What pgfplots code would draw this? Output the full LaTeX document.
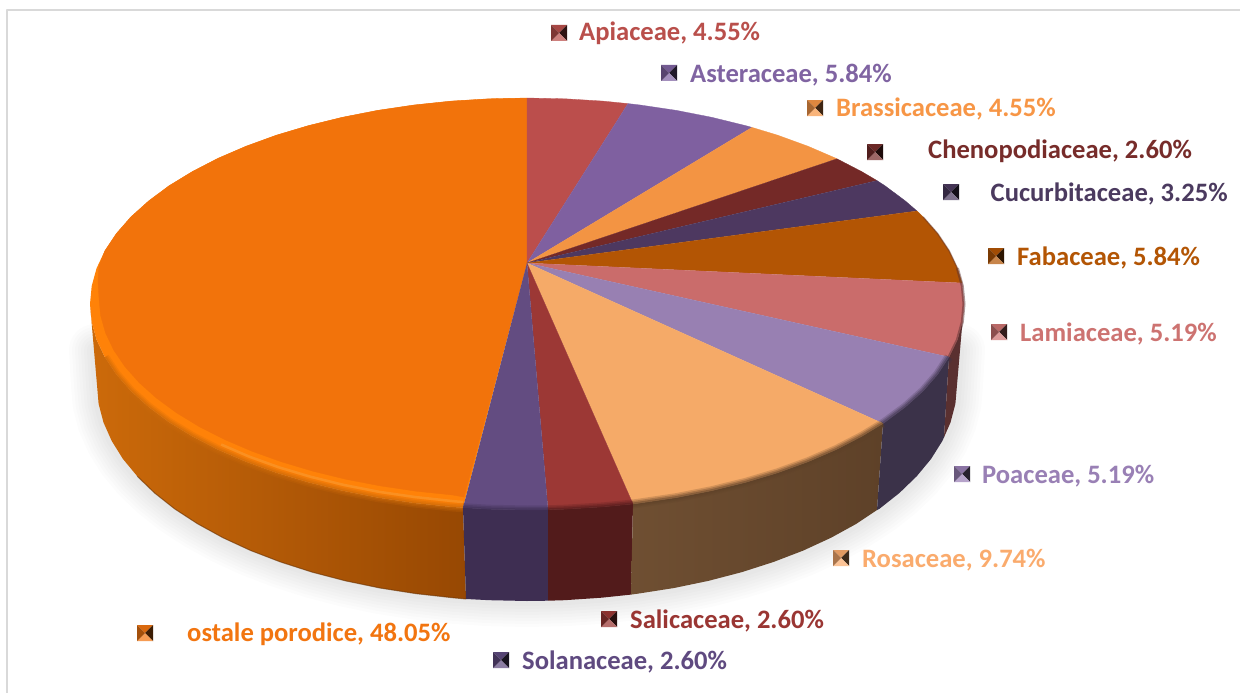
\documentclass[border=0pt]{standalone}
\usepackage{pgfplots}
\pgfplotsset{compat=1.18}
\usepackage{fontspec}
\setmainfont{Carlito}
\definecolor{cApi}{HTML}{BB4E4C}
\definecolor{cAst}{HTML}{7F60A0}
\definecolor{cBra}{HTML}{F39443}
\definecolor{cChe}{HTML}{742927}
\definecolor{cCuc}{HTML}{4D3860}
\definecolor{cFab}{HTML}{B35504}
\definecolor{cLam}{HTML}{CA6C6B}
\definecolor{cPoa}{HTML}{9880B2}
\definecolor{cRos}{HTML}{F5AA68}
\definecolor{cSal}{HTML}{9C3835}
\definecolor{cSol}{HTML}{634C81}
\definecolor{cOth}{HTML}{F2730B}
\definecolor{bevO}{HTML}{FF8208}
\definecolor{hiO}{HTML}{F9952A}
\definecolor{sOthL}{HTML}{CC6A0A}
\definecolor{sOthR}{HTML}{974803}
\definecolor{sSol}{HTML}{3E2E52}
\definecolor{sSal}{HTML}{521B1B}
\definecolor{sRosL}{HTML}{6F4F32}
\definecolor{sRosR}{HTML}{5E4128}
\definecolor{sPoa}{HTML}{3B3249}
\definecolor{sLam}{HTML}{5A3030}
\definecolor{tApi}{HTML}{B94F4B}
\definecolor{tAst}{HTML}{8064A2}
\definecolor{tBra}{HTML}{F79646}
\definecolor{tChe}{HTML}{772C2A}
\definecolor{tCuc}{HTML}{4B3A5F}
\definecolor{tFab}{HTML}{B35504}
\definecolor{tLam}{HTML}{CD7371}
\definecolor{tPoa}{HTML}{9980B5}
\definecolor{tRos}{HTML}{FAAB6D}
\definecolor{tSal}{HTML}{9A3633}
\definecolor{tSol}{HTML}{5F4A80}
\definecolor{tOth}{HTML}{F27510}
\colorlet{kbase}{black}
\tikzset{keyc/.code={\colorlet{kbase}{#1}}}
\pgfdeclareplotmark{pyr}{%
  \fill[kbase!90!black] (-8pt,8pt)--(8pt,8pt)--(0pt,0pt)--cycle;
  \fill[kbase!25!black] (8pt,8pt)--(8pt,-8pt)--(0pt,0pt)--cycle;
  \fill[kbase!72!white] (8pt,-8pt)--(-8pt,-8pt)--(0pt,0pt)--cycle;
  \fill[kbase!68!black] (-8pt,-8pt)--(-8pt,8pt)--(0pt,0pt)--cycle;
}
\newcommand{\key}[3]{\addplot[only marks,mark=pyr,keyc=#1,draw=none] coordinates {(#2,#3)};}
\newcommand{\lab}[5]{\node[anchor=base west,inner sep=0pt,text=#1,font=\fontsize{26.6}{30}\selectfont\bfseries] at (axis cs:#2,#3) {#4, #5\%};}
\newcommand{\soft}[2]{%
  \addplot[draw=#2,line width=9pt,opacity=.22] coordinates {#1};
  \addplot[draw=#2,line width=6pt,opacity=.32] coordinates {#1};
  \addplot[draw=#2,line width=3pt,opacity=.45] coordinates {#1};
}
\newcommand{\shadow}[1]{\addplot[draw=black,line width=#1pt,opacity=.013,line join=round,line cap=round] coordinates {(95,350)(97,385)(98.6,403.8)(103.5,422.5)(111.7,440.9)(122.9,458.9)(137.3,476.3)(154.6,493)(174.7,508.9)(197.6,523.8)(222.9,537.7)(250.6,550.5)(280.3,561.9)(312,572.1)(345.3,580.8)(379.9,588)(415.7,593.6)(452.3,597.7)(489.5,600.2)(527,601)(564.5,600.2)(601.6,597.7)(638.3,593.6)(674.1,588)(708.7,580.8)(742,572.1)(773.7,561.9)(803.4,550.5)(831.1,537.7)(856.4,523.8)(879.3,508.9)(899.4,493)(916.7,476.3)(931.1,458.9)(942.4,440.9)(950.5,422.5)(955.4,403.8)(957,385)(959,350)};}
\begin{document}
\begin{tikzpicture}
\begin{axis}[
  width=1240pt,height=693pt,scale only axis,
  xmin=0,xmax=1240,ymin=0,ymax=693,y dir=reverse,
  axis lines=none,
  every axis plot/.append style={line join=round,line cap=butt},
]
% page
\addplot[fill=white,draw=none] coordinates {(0,0)(1240,0)(1240,693)(0,693)};
% frame
\addplot[draw=black!15,line width=1.6pt] coordinates {(7,693)(7,10)(1240,10)};
% shadow
\shadow{52}\shadow{46}\shadow{40}\shadow{34}\shadow{28}\shadow{22}\shadow{16}\shadow{10}
% side walls
\addplot[left color=sOthL,right color=sOthR,draw=none] coordinates {(463,507.7)(451.1,506.9)(413.9,503)(377.5,497.6)(342.3,490.7)(308.5,482.4)(276.3,472.8)(246.1,461.8)(218,449.7)(192.3,436.4)(169,422.2)(148.6,407)(130.9,391.1)(116.4,374.5)(104.9,357.3)(96.6,339.8)(91.7,322)(90,304)(97,385)(98.6,403.8)(103.5,422.5)(111.7,440.9)(122.9,458.9)(137.3,476.3)(154.6,493)(174.7,508.9)(197.6,523.8)(222.9,537.7)(250.6,550.5)(280.3,561.9)(312,572.1)(345.3,580.8)(379.9,588)(415.7,593.6)(452.3,597.7)(466,599)};
\addplot[fill=sSol,draw=none] coordinates {(463,507.7)(488.9,509.2)(527,510)(548,509.8)(548,600.7)(527,601)(489.5,600.2)(466,599)};
\addplot[fill=sSal,draw=none] coordinates {(548,509.8)(565.1,509.2)(602.9,506.9)(633,504)(631,594.6)(601.6,597.7)(564.5,600.2)(548,600.7)};
\addplot[left color=sRosL,right color=sRosR,draw=none] coordinates {(633,504)(640.1,503)(676.5,497.6)(711.7,490.7)(745.5,482.4)(777.7,472.8)(807.9,461.8)(836,449.7)(861.7,436.4)(883,423.5)(877,510)(856.4,523.8)(831.1,537.7)(803.4,550.5)(773.7,561.9)(742,572.1)(708.7,580.8)(674.1,588)(638.3,593.6)(631,594.6)};
\addplot[fill=sPoa,draw=none] coordinates {(883,423.5)(905.4,407)(923.1,391.1)(937.6,374.5)(949,357)(944,437.3)(942.4,440.9)(931.1,458.9)(916.7,476.3)(899.4,493)(879.3,508.9)(877,510)};
\addplot[fill=sLam,draw=none] coordinates {(949,357)(957.4,339.8)(962.3,322)(964,304)(957,385)(955.4,403.8)(950.5,422.5)(944,437.3)};
% dark foot of the wall
\addplot[draw=sOthR!70!black,line width=1pt,opacity=.6] coordinates {(137.3,476.3)(154.6,493)(174.7,508.9)(197.6,523.8)(222.9,537.7)(250.6,550.5)(280.3,561.9)(312,572.1)(345.3,580.8)(379.9,588)(415.7,593.6)(452.3,597.7)(466,599)};
% top: others
\addplot[fill=bevO,draw=none] coordinates {(527,263)(463,507.7)(451.1,506.9)(413.9,503)(377.5,497.6)(342.3,490.7)(308.5,482.4)(276.3,472.8)(246.1,461.8)(218,449.7)(192.3,436.4)(169,422.2)(148.6,407)(130.9,391.1)(116.4,374.5)(104.9,357.3)(96.6,339.8)(91.7,322)(90,304)(91.7,286)(96.6,268.2)(104.9,250.7)(116.4,233.5)(130.9,216.9)(148.6,201)(169,185.8)(192.3,171.6)(218,158.3)(246.1,146.2)(276.3,135.2)(308.5,125.6)(342.3,117.3)(377.5,110.4)(413.9,105)(451.1,101.1)(488.9,98.8)(527,98)};
\soft{(463,507.7)(451.1,506.9)(413.9,503)(377.5,497.6)(342.3,490.7)(308.5,482.4)(276.3,472.8)(246.1,461.8)(218,449.7)(192.3,436.4)(169,422.2)(148.6,407)(130.9,391.1)(116.4,374.5)(104.9,357.3)}{sOthL}
\addplot[fill=cOth,draw=cOth,line width=.3pt] coordinates {(527,263)(464,497)(452.7,495)(416.2,491.2)(380.6,485.9)(346.1,479.3)(313,471.2)(281.5,461.8)(251.9,451.2)(224.4,439.4)(199.2,426.6)(176.4,412.7)(156.4,398)(139.1,382.5)(124.8,366.4)(113.6,349.8)(105.5,332.7)(100.6,315.4)(99,298)(98,281)(99,266)(104.9,250.7)(116.4,233.5)(130.9,216.9)(148.6,201)(169,185.8)(192.3,171.6)(218,158.3)(246.1,146.2)(276.3,135.2)(308.5,125.6)(342.3,117.3)(377.5,110.4)(413.9,105)(451.1,101.1)(488.9,98.8)(527,98)};
\addplot[draw=hiO,line width=2.5pt,opacity=.75] coordinates {(463,502)(451.9,501)(415,497)(379,491.8)(344.2,485)(310.8,476.8)(278.9,467.3)(249,456.5)(221.2,444.5)};
% top: slices
\addplot[fill=cApi,draw=cApi,line width=.3pt] coordinates {(527,263)(527,98)(565.1,98.8)(602.9,101.1)(628,103.6)};
\addplot[fill=cAst,draw=cAst,line width=.3pt] coordinates {(527,263)(628,103.6)(640.1,105)(676.5,110.4)(711.7,117.3)(745.5,125.6)(752,127.4)};
\addplot[fill=cBra,draw=cBra,line width=.3pt] coordinates {(527,263)(752,127.4)(777.7,135.2)(807.9,146.2)(836,158.3)(837,158.8)};
\addplot[fill=cChe,draw=cChe,line width=.3pt] coordinates {(527,263)(837,158.8)(861.7,171.6)(877,180.6)};
\addplot[fill=cCuc,draw=cCuc,line width=.3pt] coordinates {(527,263)(877,180.6)(885,185.8)(905.4,201)(917,211)};
\addplot[fill=cFab,draw=cFab,line width=.3pt] coordinates {(527,263)(917,211)(923.1,216.9)(937.6,233.5)(949.1,250.7)(957.4,268.2)(962,283)};
\addplot[fill=cLam,draw=cLam,line width=.3pt] coordinates {(527,263)(962,283)(962.3,286)(964,304)(962.3,322)(957.4,339.8)(949,357)};
\addplot[fill=cPoa,draw=cPoa,line width=.3pt] coordinates {(527,263)(949,357)(937.6,374.5)(923.1,391.1)(905.4,407)(885,422.2)(883,423.5)};
\addplot[fill=cRos,draw=cRos,line width=.3pt] coordinates {(527,263)(883,423.5)(861.7,436.4)(836,449.7)(807.9,461.8)(777.7,472.8)(745.5,482.4)(711.7,490.7)(676.5,497.6)(640.1,503)(633,504)};
\addplot[fill=cSal,draw=cSal,line width=.3pt] coordinates {(527,263)(633,504)(602.9,506.9)(565.1,509.2)(548,509.8)};
\addplot[fill=cSol,draw=cSol,line width=.3pt] coordinates {(527,263)(548,509.8)(527,510)(488.9,509.2)(463,507.7)};
% soft lower edges
\soft{(463,507.7)(488.9,509.2)(527,510)(548,509.8)}{sSol}
\soft{(548,509.8)(565.1,509.2)(602.9,506.9)(633,504)}{sSal}
\soft{(633,504)(640.1,503)(676.5,497.6)(711.7,490.7)(745.5,482.4)(777.7,472.8)(807.9,461.8)(836,449.7)(861.7,436.4)(883,423.5)}{sRosR}
\soft{(883,423.5)(905.4,407)(923.1,391.1)(937.6,374.5)(949,357)}{sPoa}
\addplot[draw=sLam,line width=3pt,opacity=.5] coordinates {(949,357)(957.4,339.8)(962.3,322)(964,304)(962.3,286)(957.4,268.2)};
\addplot[draw=sLam,line width=1.5pt,opacity=.4] coordinates {(957.4,268.2)(949.1,250.7)(937.6,233.5)(923.1,216.9)};
% legend keys and labels
\key{tApi}{559}{33} \key{tAst}{669}{73} \key{tBra}{815}{108} \key{tChe}{875}{152}
\key{tCuc}{951}{192} \key{tFab}{996}{256} \key{tLam}{999}{332} \key{tPoa}{962}{474}
\key{tRos}{841}{558} \key{tSal}{609}{619} \key{tSol}{501}{660} \key{tOth}{145}{633}
\lab{tApi}{579}{41}{Apiaceae}{4.55}
\lab{tAst}{690}{82}{Asteraceae}{5.84}
\lab{tBra}{836}{116}{Brassicaceae}{4.55}
\lab{tChe}{928}{158}{Chenopodiaceae}{2.60}
\lab{tCuc}{990.5}{201}{Cucurbitaceae}{3.25}
\lab{tFab}{1017}{265}{Fabaceae}{5.84}
\lab{tLam}{1020}{341}{Lamiaceae}{5.19}
\lab{tPoa}{982}{483}{Poaceae}{5.19}
\lab{tRos}{862}{567}{Rosaceae}{9.74}
\lab{tSal}{630}{628}{Salicaceae}{2.60}
\lab{tSol}{522}{669}{Solanaceae}{2.60}
\lab{tOth}{187}{641}{ostale porodice}{48.05}
\end{axis}
\end{tikzpicture}
\end{document}
